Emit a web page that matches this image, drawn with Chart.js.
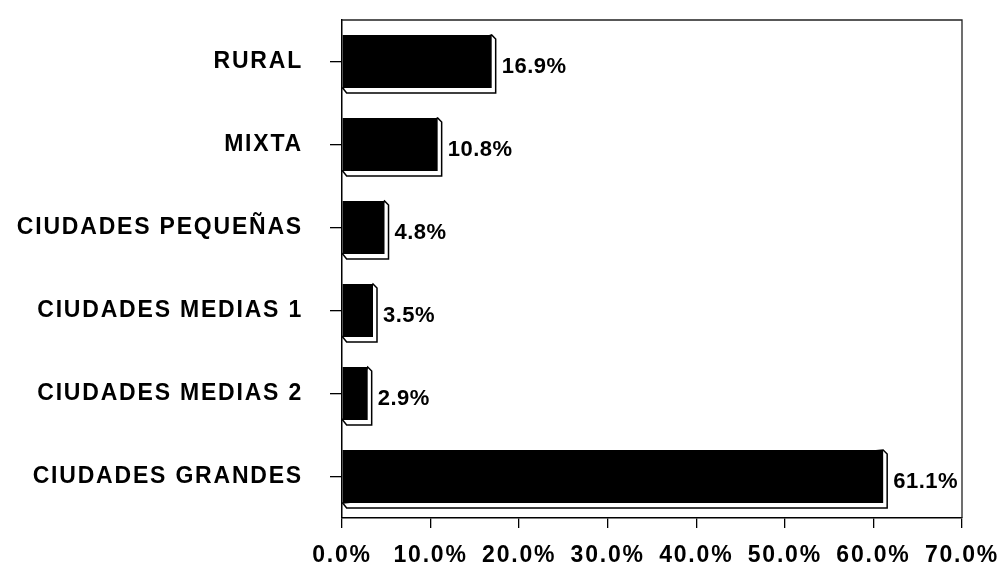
<!DOCTYPE html>
<html>
<head>
<meta charset="utf-8">
<script src="https://cdn.jsdelivr.net/npm/chart.js@4/dist/chart.umd.min.js"></script>
<style>
html, body { margin: 0; padding: 0; background: #fff; }
#wrap { width: 1005px; height: 566px; }
</style>
</head>
<body>
<div id="wrap"><canvas id="chart"></canvas></div>
<script>
// --- data ---------------------------------------------------------------
var categories = ["RURAL", "MIXTA", "CIUDADES PEQUEÑAS", "CIUDADES MEDIAS 1", "CIUDADES MEDIAS 2", "CIUDADES GRANDES"];
var shares = [16.9, 10.8, 4.8, 3.5, 2.9, 61.1]; // percent
var xTickValues = [0, 10, 20, 30, 40, 50, 60, 70];

var FONT = "'Liberation Sans', Arial, sans-serif";
var DEPTH = 4; // 3d offset of the bars

// draws the white "side" of each bar before the black front is painted
var bevelPlugin = {
    id: 'bevel',
    beforeDraw: function (chart) {
        chart.ctx.letterSpacing = '1.8px';
    },
    beforeDatasetsDraw: function (chart) {
        var ctx = chart.ctx;
        var meta = chart.getDatasetMeta(0);
        ctx.save();
        ctx.fillStyle = '#fff';
        ctx.strokeStyle = '#000';
        ctx.lineWidth = 1.5;
        meta.data.forEach(function (bar) {
            var p = bar.getProps(['x', 'y', 'base', 'height'], true);
            var top = p.y - p.height / 2, bottom = p.y + p.height / 2;
            ctx.beginPath();
            ctx.moveTo(p.base, bottom);
            ctx.lineTo(p.base + DEPTH, bottom + DEPTH + 1);
            ctx.lineTo(p.x + DEPTH, bottom + DEPTH + 1);
            ctx.lineTo(p.x + DEPTH, top + DEPTH);
            ctx.lineTo(p.x, top);
            ctx.closePath();
            ctx.fill();
            ctx.stroke();
        });
        ctx.restore();
    },
    afterDatasetsDraw: function (chart) {
        var ctx = chart.ctx;
        var meta = chart.getDatasetMeta(0);
        ctx.save();
        ctx.letterSpacing = '0.5px';
        ctx.font = 'bold 22px ' + FONT;
        ctx.fillStyle = '#000';
        ctx.textAlign = 'left';
        ctx.textBaseline = 'middle';
        meta.data.forEach(function (bar, i) {
            var p = bar.getProps(['x', 'y'], true);
            ctx.fillText(shares[i].toFixed(1) + '%', p.x + 10, p.y + 5);
        });
        ctx.restore();
    },
    afterDraw: function (chart) {
        // top and right frame of the plot area
        var a = chart.chartArea, ctx = chart.ctx;
        ctx.save();
        ctx.strokeStyle = '#222';
        ctx.lineWidth = 1.3;
        ctx.beginPath();
        ctx.moveTo(a.left, a.top);
        ctx.lineTo(a.right, a.top);
        ctx.lineTo(a.right, a.bottom);
        ctx.stroke();
        ctx.restore();
        ctx.letterSpacing = '0px';
    }
};

var ctx = document.getElementById('chart').getContext('2d');
var chart = new Chart(ctx, {
    type: 'bar',
    data: {
        labels: categories,
        datasets: [{
            data: shares,
            backgroundColor: '#000',
            borderWidth: 0,
            barPercentage: 0.64,
            categoryPercentage: 1.0
        }]
    },
    options: {
        indexAxis: 'y',
        responsive: true,
        maintainAspectRatio: false,
        animation: false,
        layout: { padding: { top: 20, right: 43, bottom: 0, left: 0 } },
        plugins: { legend: { display: false }, tooltip: { enabled: false } },
        scales: {
            x: {
                min: 0,
                max: 70,
                afterBuildTicks: function (axis) {
                    axis.ticks = xTickValues.map(function (v) { return {value: v}; });
                },
                afterFit: function (axis) {
                    axis.height = 48;
                    axis.paddingLeft = 0;
                    axis.paddingRight = 0;
                },
                ticks: {
                    color: '#000',
                    font: { family: FONT, size: 23, weight: 'bold' },
                    padding: 14,
                    maxRotation: 0,
                    callback: function (v) { return v.toFixed(1) + '%'; }
                },
                grid: { drawOnChartArea: false, color: '#000', tickLength: 10, lineWidth: 1.3 },
                border: { color: '#000', width: 1.5 }
            },
            y: {
                afterFit: function (axis) {
                    axis.width = 342;
                    axis.paddingTop = 0;
                    axis.paddingBottom = 0;
                },
                ticks: {
                    color: '#000',
                    font: { family: FONT, size: 23, weight: 'bold' },
                    padding: 27
                },
                grid: { drawOnChartArea: false, offset: false, color: '#000', tickLength: 12, lineWidth: 1.3 },
                border: { color: '#000', width: 1.5 }
            }
        }
    },
    plugins: [bevelPlugin]
});
</script>
</body>
</html>
